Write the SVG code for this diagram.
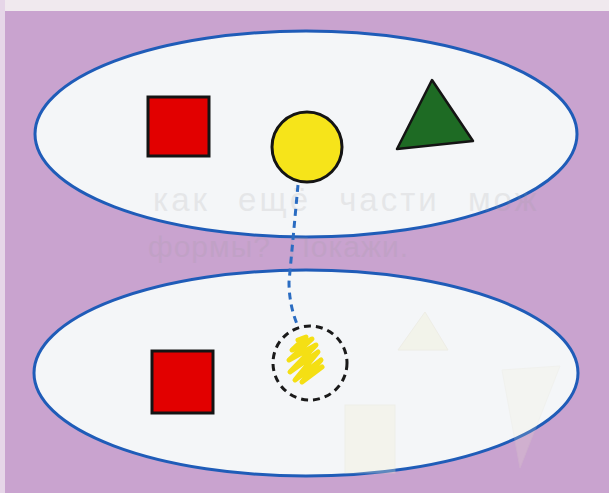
<svg xmlns="http://www.w3.org/2000/svg" width="609" height="493" viewBox="0 0 609 493">
<style>
.set{fill:#f4f6f8;stroke:#1f5cb8;stroke-width:3}
.sq{fill:#e20000;stroke:#141414;stroke-width:3}
.ghost{font-family:"Liberation Sans","DejaVu Sans",sans-serif;fill:#9a9a9a;opacity:0.16}
.faint{fill:#f1efd2;stroke:#e2ddc4;stroke-width:1}
</style>
<rect x="0" y="0" width="609" height="493" fill="#c9a3cf"/>
<rect x="0" y="0" width="609" height="11" fill="#f0e9ee"/>
<rect x="0" y="0" width="5" height="493" fill="#e6d6e8"/>
<g id="top-set">
<ellipse class="set" cx="306" cy="134" rx="271" ry="103"/>
</g>
<g id="bottom-set">
<ellipse class="set" cx="306" cy="373" rx="272" ry="103"/>
<polygon class="faint" points="425,312 448,350 398,350" opacity="0.35"/>
<rect class="faint" x="345" y="405" width="50" height="68" opacity="0.3"/>
<polygon class="faint" points="502,370 560,366 520,468" opacity="0.18"/>
</g>
<g id="background-text">
<text class="ghost" x="153" y="211" font-size="33" letter-spacing="3" word-spacing="16">как ещё части мож</text>
<text class="ghost" x="148" y="257" font-size="30" letter-spacing="1" word-spacing="8">формы? Покажи.</text>
</g>
<g id="connectors">
<path d="M298,185 L289,282 Q289,304 297,324" fill="none" stroke="#2a6cc2" stroke-width="3" stroke-dasharray="7,5"/>
</g>
<g id="top-square">
<rect class="sq" x="148" y="97" width="61" height="59"/>
</g>
<g id="top-circle">
<ellipse cx="307" cy="147" rx="35" ry="35" fill="#f6e41a" stroke="#141414" stroke-width="3"/>
</g>
<g id="top-triangle">
<polygon points="432,80 473,141 397,149" fill="#1e6b24" stroke="#141414" stroke-width="2.5" stroke-linejoin="round"/>
</g>
<g id="bottom-square">
<rect class="sq" x="152" y="351" width="61" height="62"/>
</g>
<g id="bottom-circle">
<circle cx="310" cy="363" r="37" fill="none" stroke="#1a1a1a" stroke-width="3" stroke-dasharray="7,5"/>
<path d="M298,340 L306,337 L292,350 L312,339 L289,360 L316,345 L290,372 L318,352 L295,380 L321,360 L302,382 L322,367" fill="none" stroke="#f4df14" stroke-width="5" stroke-linejoin="round" stroke-linecap="round"/>
</g>
</svg>
